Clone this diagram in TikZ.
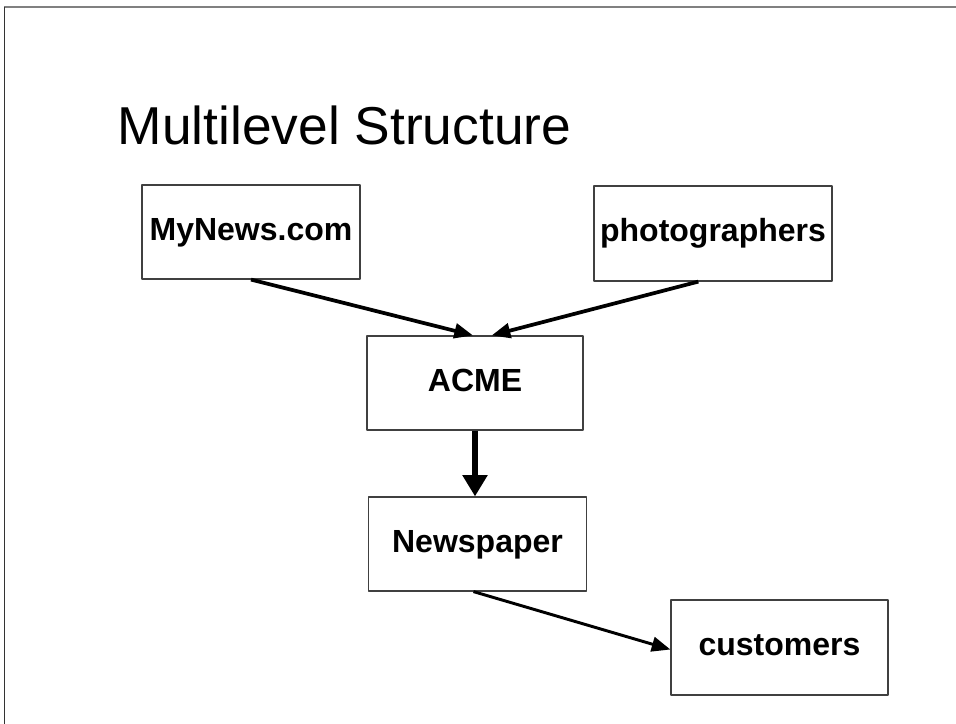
\documentclass[tikz,border=0pt]{standalone}
\usepackage{fontspec}
\setmainfont{Liberation Sans}
\usetikzlibrary{arrows.meta}
\begin{document}
\begin{tikzpicture}[x=0.75pt,y=-0.75pt,line join=round,
  box/.style={draw=black!75,line width=0.9pt,inner sep=0pt,text height=17pt,text depth=4.5pt,font=\fontsize{24}{28}\selectfont\bfseries},
  link/.style={-{Triangle[length=14pt,width=11pt]},line width=2.8pt}]
		\useasboundingbox (0,0) rectangle (956,724);
		\draw[black!50,line width=1.6pt] (4,7)--(956,7);
		\draw[black!80,line width=1.2pt] (4.5,7)--(4.5,724);
		\node[anchor=base west,font=\fontsize{40}{48}\selectfont] (title) at (113,144) {Multilevel Structure};
		\node[box,minimum width=163.5pt,minimum height=70.5pt] (mynews) at (251,232) {MyNews.com};
		\node[box,minimum width=178.5pt,minimum height=71.25pt] (photo) at (713,233.5) {photographers};
		\node[box,minimum width=162pt,minimum height=70.5pt] (acme) at (475,383) {ACME};
		\node[box,minimum width=163.5pt,minimum height=70.5pt] (paper) at (477.5,544) {Newspaper};
		\node[box,minimum width=162.75pt,minimum height=71.25pt] (cust) at (779.5,647.5) {customers};
		\draw[link] (mynews.south) -- ([xshift=-1.5pt]acme.north);
		\draw[link] ([xshift=-11pt]photo.south) -- ([xshift=12.5pt]acme.north);
		\draw[link,line width=5pt,-{Triangle[length=16pt,width=18pt]}] (acme.south) -- (acme.south |- paper.north);
		\draw[link,line width=2.2pt,-{Triangle[length=14pt,width=11pt]}] ([xshift=-3pt]paper.south) -- ([yshift=-1.5pt]cust.west);
		\end{tikzpicture}
\end{document}
